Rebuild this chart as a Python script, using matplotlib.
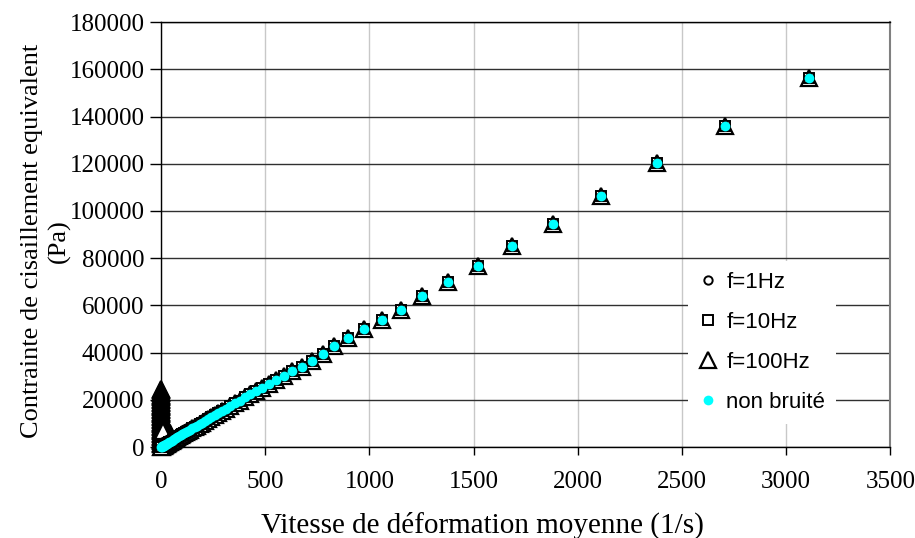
import matplotlib.pyplot as plt

# non bruité (reference curve)
x_nb = [3111, 2708, 2381, 2112, 1882, 1685, 1522, 1378, 1253, 1152, 1060, 975,
        898, 831, 778, 725, 677, 629, 590, 552, 518, 486, 456, 428, 402, 377,
        354, 332, 311, 292, 274, 257, 241, 226, 212, 198, 185, 173, 161, 150,
        140, 130, 120, 111, 102, 94, 86, 78, 71, 64, 57, 51, 45, 39, 34, 29,
        24, 20, 16, 12, 9, 6, 3, 1]
y_nb = [156300, 136000, 120300, 106300, 94500, 85100, 76700, 69900, 64000, 58000,
        53800, 50000, 46200, 42800, 39400, 36400, 33900, 32100, 30100, 28200,
        26600, 25100, 23700, 22300, 21000, 19700, 18500, 17400, 16300, 15300,
        14400, 13500, 12700, 11900, 11100, 10400, 9700, 9100, 8500, 7900, 7400,
        6900, 6300, 5800, 5400, 5000, 4500, 4100, 3700, 3300, 3000, 2700, 2300,
        2000, 1800, 1500, 1200, 1000, 800, 600, 470, 310, 160, 50]

# f=1Hz and f=10Hz follow the reference closely
x_1hz = x_nb
y_1hz = y_nb
x_10hz = x_nb
y_10hz = y_nb

# f=100Hz : strong scatter at very low shear rate, then the same points
x_100hz_low = [0, 0, 0, 0, 0, 0, 0, 0, 0, 0, 0, 0, 0, 0, 0, 0, 0, 0, 0, 0,
               0, 0, 0, 0, 0, 0, 0, 0, 0, 0, 0, 0, 0, 0, 0, 0, 0, 0, 0, 0,
               45, 40, 35, 30, 25, 20, 15, 10]
y_100hz_low = [24600, 24000, 23400, 22800, 22200, 21600, 21000, 20400, 19800,
               19200, 18600, 18000, 17400, 16800, 16200, 15600, 15000, 14400,
               13800, 13200, 12600, 12000, 11400, 10800, 10200, 9600, 9000,
               8400, 7800, 7200, 6600, 6000, 5400, 4800, 4200, 3600, 3000,
               2400, 1800, 1200,
               6000, 6400, 6800, 7200, 7400, 7400, 7200, 7000]
x_100hz = x_100hz_low + x_nb
y_100hz = y_100hz_low + y_nb

plt.rcParams['font.family'] = ['Liberation Serif']

fig = plt.figure(figsize=(9.15, 5.38), dpi=100)
ax = fig.add_axes([0.176, 0.169, 0.797, 0.790])

h3, = ax.plot(x_100hz, y_100hz, '^', ms=12, mfc='white', mec='black', mew=1.6,
              label='f=100Hz', zorder=3, clip_on=False)
h2, = ax.plot(x_10hz, y_10hz, 's', ms=6.5, mfc='white', mec='black', mew=1.4,
              label='f=10Hz', zorder=4, clip_on=False)
h1, = ax.plot(x_1hz, y_1hz, 'o', ms=6, mfc='white', mec='black', mew=1.4,
              label='f=1Hz', zorder=5, clip_on=False)
h4, = ax.plot(x_nb, y_nb, 'o', ms=7, mfc='#00ffff', mec='none',
              label='non bruité', zorder=6, clip_on=False)

ax.set_xlim(0, 3500)
ax.set_ylim(0, 180000)
ax.set_xticks(range(0, 3501, 500))
ax.set_yticks(range(0, 180001, 20000))

ax.yaxis.grid(True, color='#303030', lw=1.0, zorder=0)
ax.xaxis.grid(True, color='#c8c8c8', lw=1.0, zorder=0)
ax.set_axisbelow(True)

for s in ['left', 'bottom', 'top']:
    ax.spines[s].set_color('black')
    ax.spines[s].set_linewidth(1.0)
ax.spines['right'].set_color('#808080')
ax.spines['right'].set_linewidth(1.5)

ax.tick_params(axis='y', direction='out', length=8, width=1, pad=4, labelsize=18)
ax.tick_params(axis='x', direction='out', length=6, width=1, pad=11, labelsize=18)

ax.set_xlabel('Vitesse de déformation moyenne (1/s)', fontsize=21)
ax.xaxis.set_label_coords(0.441, -0.152)
ax.set_ylabel('Contrainte de cisaillement equivalent\n(Pa)', fontsize=19,
              linespacing=1.25)
ax.yaxis.set_label_coords(-0.124, 0.485)

leg = ax.legend(handles=[h1, h2, h3, h4], loc='upper left',
                bbox_to_anchor=(0.708, 0.464), frameon=True, fancybox=False,
                facecolor='white', edgecolor='none', framealpha=1,
                prop={'family': 'Liberation Sans', 'size': 16},
                labelspacing=0.85, handlelength=0.8, handletextpad=0.4,
                borderpad=0.5)
leg.set_zorder(10)

fig.savefig('out.png', dpi=100)
